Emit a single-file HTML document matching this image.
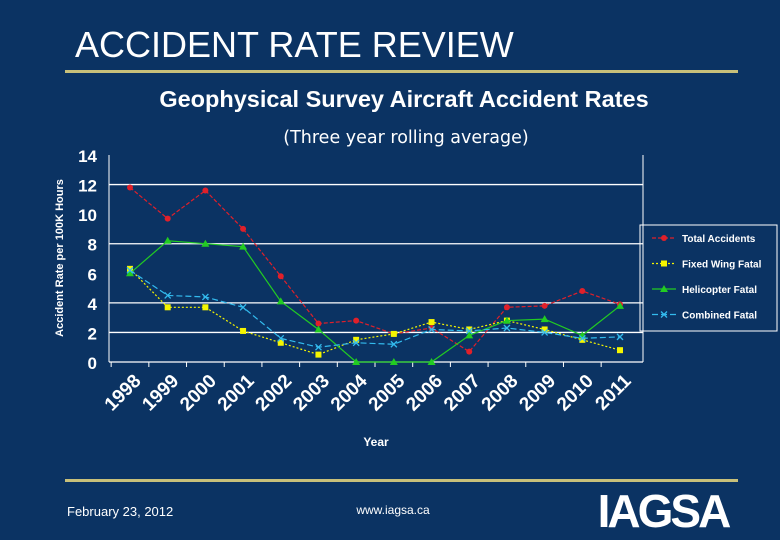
<!DOCTYPE html>
<html><head><meta charset="utf-8"><style>
body{margin:0;width:780px;height:540px;background:#0b3363;overflow:hidden;font-family:"Liberation Sans",sans-serif;color:#fff}
</style></head><body>
<svg width="780" height="540" style="position:absolute;left:0;top:0">
<text x="75" y="57" font-size="36" fill="#fff">ACCIDENT RATE REVIEW</text>
<rect x="65" y="70" width="673" height="3" fill="#c8c07a"/>
<text x="404" y="107" font-size="23.5" font-weight="bold" text-anchor="middle" fill="#fff">Geophysical Survey Aircraft Accident Rates</text>
<text x="406" y="143" font-size="17.5" text-anchor="middle" fill="#fff" font-family="DejaVu Sans">(Three year rolling average)</text>
<text transform="translate(63,258) rotate(-90)" font-size="11" font-weight="bold" text-anchor="middle" fill="#fff">Accident Rate per 100K Hours</text>
<text x="376" y="446" font-size="12" font-weight="bold" text-anchor="middle" fill="#fff">Year</text>
<g id="chart"></g>
<rect x="640" y="225" width="137" height="106" fill="none" stroke="#fff" stroke-width="1"/>
<g id="legend"></g>
<rect x="65" y="479" width="673" height="3" fill="#c8c07a"/>
<text x="67" y="516" font-size="13" fill="#fff">February 23, 2012</text>
<text x="393" y="514" font-size="12" fill="#fff" text-anchor="middle">www.iagsa.ca</text>
<g>
<text x="663" y="527" font-size="46" font-weight="bold" text-anchor="middle" fill="#fff" letter-spacing="-3">IAGSA</text>
</g>
</svg>
<script>
const years=["1998","1999","2000","2001","2002","2003","2004","2005","2006","2007","2008","2009","2010","2011"];
const totalAccidents=[11.8,9.7,11.6,9.0,5.8,2.6,2.8,1.9,2.3,0.7,3.7,3.8,4.8,3.9];
const fixedWingFatal=[6.3,3.7,3.7,2.1,1.3,0.5,1.5,1.9,2.7,2.2,2.8,2.2,1.5,0.8];
const helicopterFatal=[6.0,8.2,8.0,7.8,4.1,2.2,0,0,0,1.8,2.8,2.9,1.8,3.8];
const combinedFatal=[6.2,4.5,4.4,3.7,1.6,1.0,1.3,1.2,2.2,2.1,2.3,2.0,1.6,1.7];
const yTicks=[0,2,4,6,8,10,12,14];
const NS="http://www.w3.org/2000/svg";
const g=document.getElementById('chart'),lg=document.getElementById('legend');
const X0=109,X1=643,Y0=362,Y14=155;
const FIRST=130,LAST=620;
const step=(LAST-FIRST)/(years.length-1);
const xs=i=>FIRST+step*i;
const ys=v=>Y0-(Y0-Y14)*v/14;
function mk(t,a,p){const e=document.createElementNS(NS,t);for(const k in a)e.setAttribute(k,a[k]);(p||g).appendChild(e);return e;}
yTicks.forEach(t=>{
 if(t===2||t===4||t===8||t===12){const l=mk('line',{x1:X0,x2:X1,y1:ys(t),y2:ys(t),stroke:'#fff','stroke-width':1.3});
 }
 const tx=mk('text',{x:97,y:ys(t)+7,'font-size':17,'font-weight':'bold','text-anchor':'end',fill:'#fff'});tx.textContent=t;
 
});
let a=mk('line',{x1:X0,x2:X0,y1:Y14,y2:Y0,stroke:'#fff','stroke-width':1});

a=mk('line',{x1:X0,x2:X1,y1:Y0,y2:Y0,stroke:'#fff','stroke-width':1.3});

mk('line',{x1:X1,x2:X1,y1:Y14,y2:Y0,stroke:'#fff','stroke-width':1});
years.forEach((y,i)=>{
 mk('line',{x1:xs(i)-step/2,x2:xs(i)-step/2,y1:Y0,y2:Y0+5,stroke:'#fff'});
 const tx=mk('text',{transform:`translate(${xs(i)+12},${Y0+20}) rotate(-45)`,'font-size':19,'font-weight':'bold','text-anchor':'end',fill:'#fff'});
 tx.textContent=y;
});
const series=[
 {name:'Total Accidents',d:totalAccidents,c:'#e0202a',m:'dot',dash:'4 2'},
 {name:'Fixed Wing Fatal',d:fixedWingFatal,c:'#f5f500',m:'sq',dash:'2 2'},
 {name:'Helicopter Fatal',d:helicopterFatal,c:'#22cc22',m:'tri',dash:'none'},
 {name:'Combined Fatal',d:combinedFatal,c:'#33bbee',m:'x',dash:'6 3'}];
function marker(s,x,y,p){
 let e;
 if(s.m==='dot')e=mk('circle',{cx:x,cy:y,r:3,fill:s.c},p);
 else if(s.m==='sq')e=mk('rect',{x:x-3,y:y-3,width:6,height:6,fill:s.c},p);
 else if(s.m==='tri')e=mk('polygon',{points:`${x},${y-4} ${x-4},${y+3} ${x+4},${y+3}`,fill:s.c},p);
 else e=mk('path',{d:`M${x-3},${y-3}L${x+3},${y+3}M${x-3},${y+3}L${x+3},${y-3}`,stroke:s.c,'stroke-width':1.3},p);
 return e;
}
series.forEach((s,k)=>{
 const pl=mk('polyline',{points:s.d.map((v,i)=>xs(i)+','+ys(v)).join(' '),fill:'none',stroke:s.c,'stroke-width':1.2,'stroke-dasharray':s.dash});
 
 s.d.forEach((v,i)=>{const e=marker(s,xs(i),ys(v));});
 const ly=238+k*25.5;
 mk('line',{x1:652,x2:676,y1:ly,y2:ly,stroke:s.c,'stroke-width':1.2,'stroke-dasharray':s.dash},lg);
 marker(s,664,ly,lg);
 const t=mk('text',{x:682,y:ly+4,'font-size':10,'font-weight':'bold',fill:'#fff'},lg);t.textContent=s.name;
 
});
</script>
</body></html>
